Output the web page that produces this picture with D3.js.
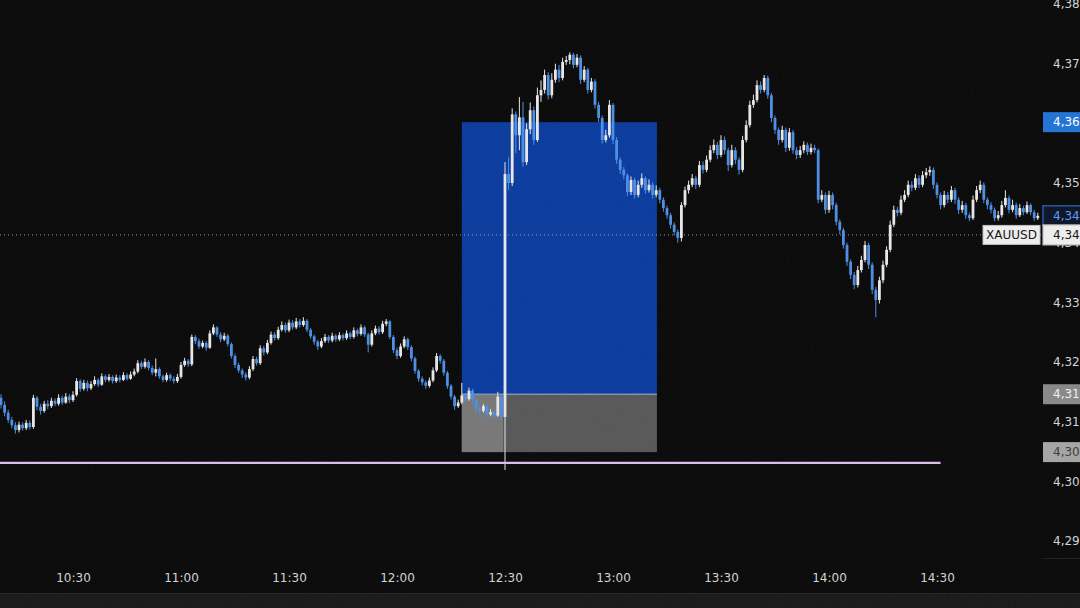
<!DOCTYPE html>
<html>
<head>
<meta charset="utf-8">
<script src="https://cdn.jsdelivr.net/npm/d3@7/dist/d3.min.js"></script>
<style>
  html, body { margin: 0; padding: 0; background: #090909; overflow: hidden; }
  svg { display: block; }
</style>
</head>
<body>
<svg id="chart" width="1080" height="608"></svg>
<script>
// ---------- DATA ----------
const firstMinute = 610; // 10:10, one candle per minute
const opens = [4314.0,4312.8,4311.5,4310.3,4309.4,4308.6,4309.5,4308.9,4309.8,4309.1,
 4314.0,4312.5,4311.8,4313.0,4312.6,4313.5,4313.0,4314.0,4313.2,4314.2,
 4313.6,4314.5,4316.8,4315.5,4316.5,4315.6,4316.3,4317.0,4316.2,4317.6,
 4317.0,4317.5,4316.8,4317.4,4317.0,4317.8,4317.2,4317.9,4318.4,4319.8,
 4319.2,4320.0,4319.0,4318.2,4318.8,4317.6,4317.0,4317.8,4317.2,4316.8,
 4317.5,4319.5,4320.2,4319.6,4324.2,4323.5,4322.6,4323.2,4322.4,4324.8,
 4325.8,4324.6,4323.8,4324.4,4323.0,4321.0,4319.5,4318.6,4317.9,4317.4,
 4318.8,4320.5,4319.8,4322.3,4321.6,4323.2,4324.6,4324.0,4325.4,4326.2,
 4325.3,4326.6,4325.8,4326.8,4326.2,4326.9,4325.4,4324.3,4323.4,4322.6,
 4323.5,4324.2,4323.6,4324.4,4323.8,4324.5,4324.0,4324.8,4324.2,4325.3,
 4324.7,4325.8,4324.6,4322.9,4324.8,4325.6,4325.0,4326.4,4326.8,4324.2,
 4322.0,4321.0,4322.6,4323.8,4322.5,4320.6,4318.5,4317.2,4316.6,4316.0,
 4316.9,4318.6,4321.0,4320.2,4318.2,4316.0,4314.2,4312.6,4313.2,4314.4,
 4313.8,4315.2,4313.6,4312.2,4311.8,4312.6,4311.2,4311.6,4311.0,4314.2,
 4310.8,4351.5,4350.0,4361.5,4358.0,4361.0,4353.5,4359.0,4362.2,4357.2,
 4364.7,4365.6,4368.1,4364.7,4367.3,4369.0,4367.6,4370.3,4370.6,4371.5,
 4369.8,4371.0,4367.3,4369.0,4365.6,4367.0,4363.1,4360.9,4357.2,4358.0,
 4363.1,4357.2,4353.9,4352.2,4351.3,4348.5,4350.5,4348.0,4349.7,4350.8,
 4348.8,4349.7,4348.0,4348.8,4347.2,4345.8,4344.6,4343.0,4341.8,4340.8,
 4346.3,4348.8,4349.7,4350.8,4349.7,4353.0,4352.2,4353.9,4355.5,4356.4,
 4354.7,4357.2,4355.5,4353.0,4355.5,4353.9,4352.2,4357.2,4359.7,4363.1,
 4363.9,4366.4,4365.6,4367.6,4364.7,4360.9,4358.9,4357.2,4358.9,4355.9,
 4358.5,4355.5,4354.7,4355.5,4356.4,4355.2,4355.9,4355.5,4347.2,4348.0,
 4345.5,4348.0,4346.3,4343.5,4342.1,4339.6,4336.8,4334.6,4332.9,4335.4,
 4337.1,4339.6,4336.3,4332.1,4330.4,4333.7,4336.3,4338.8,4343.0,4345.5,
 4345.0,4347.2,4348.0,4349.7,4349.2,4350.8,4349.7,4351.3,4351.8,4352.2,
 4349.7,4348.0,4346.3,4348.0,4347.2,4348.8,4347.2,4345.5,4346.3,4344.6,
 4344.1,4347.2,4348.8,4349.7,4347.2,4346.3,4345.5,4344.1,4344.6,4346.3,
 4347.5,4345.5,4346.3,4344.6,4345.8,4345.1,4346.3,4345.1,4344.1];
const highs = [4314.6,4313.4,4312.0,4310.8,4309.9,4310.0,4309.9,4310.3,4310.2,4314.5,
 4314.3,4313.0,4313.5,4313.6,4314.0,4313.9,4314.6,4314.4,4314.8,4314.6,
 4315.1,4317.3,4317.1,4317.0,4316.9,4316.8,4317.6,4317.3,4318.1,4317.9,
 4318.0,4317.8,4317.9,4317.8,4318.3,4318.1,4318.4,4318.9,4320.3,4320.2,
 4320.6,4320.3,4319.4,4320.6,4319.1,4317.9,4318.2,4318.1,4317.6,4318.0,
 4320.0,4320.7,4320.5,4324.6,4324.5,4323.9,4323.6,4323.5,4325.3,4326.3,
 4326.0,4325.0,4324.9,4324.7,4323.3,4321.4,4319.9,4318.9,4318.3,4319.3,
 4321.0,4320.9,4322.8,4322.7,4323.7,4325.1,4325.0,4325.9,4326.8,4326.6,
 4327.1,4327.0,4327.4,4327.2,4327.5,4327.2,4325.7,4324.6,4323.7,4324.0,
 4324.7,4324.5,4324.9,4324.7,4325.0,4324.8,4325.3,4325.1,4325.8,4325.6,
 4326.3,4326.1,4324.9,4325.3,4326.1,4326.0,4326.9,4327.2,4327.0,4324.5,
 4322.4,4323.1,4324.3,4324.1,4322.8,4320.9,4318.8,4317.6,4316.9,4317.4,
 4319.1,4321.5,4321.3,4320.5,4318.5,4316.3,4314.5,4313.7,4316.5,4314.8,
 4315.7,4315.5,4313.9,4312.6,4313.0,4312.9,4312.1,4311.9,4315.0,4314.5,
 4353.5,4354.3,4362.5,4362.0,4364.4,4363.6,4360.0,4363.5,4362.8,4366.0,
 4367.2,4369.0,4368.6,4368.4,4370.0,4369.8,4371.0,4371.3,4371.9,4371.8,
 4371.6,4371.4,4369.6,4369.3,4367.6,4367.4,4363.6,4361.3,4358.9,4363.9,
 4363.4,4357.7,4354.3,4352.7,4351.6,4351.1,4350.9,4350.4,4351.6,4351.1,
 4350.6,4350.1,4349.6,4349.2,4347.6,4346.2,4345.0,4343.4,4342.2,4346.8,
 4349.4,4350.4,4351.5,4351.2,4353.7,4353.6,4354.6,4356.3,4357.3,4356.9,
 4358.0,4357.8,4355.9,4356.4,4356.0,4354.3,4357.9,4360.5,4363.8,4364.8,
 4367.2,4367.0,4368.1,4368.0,4365.1,4361.3,4359.3,4359.6,4359.3,4359.2,
 4358.9,4356.0,4356.2,4357.0,4356.8,4356.6,4356.4,4355.8,4348.8,4348.4,
 4348.7,4348.4,4346.7,4343.9,4342.5,4340.0,4337.2,4335.1,4336.1,4337.8,
 4340.3,4340.0,4336.7,4332.6,4334.3,4337.0,4339.4,4343.7,4346.2,4346.0,
 4347.9,4348.8,4350.4,4350.3,4351.5,4351.3,4352.0,4352.5,4352.8,4352.6,
 4350.1,4348.4,4348.7,4348.5,4349.5,4349.2,4347.6,4347.0,4346.7,4345.0,
 4347.9,4349.5,4350.4,4350.1,4347.6,4346.8,4345.9,4345.3,4347.0,4348.8,
 4347.9,4347.2,4346.7,4346.5,4346.2,4346.9,4346.6,4345.5,4345.0];
const lows = [4312.2,4310.9,4309.8,4308.9,4308.0,4308.2,4308.5,4308.6,4308.7,4308.8,
 4311.9,4311.2,4311.5,4312.1,4312.3,4312.6,4312.7,4312.8,4313.0,4313.1,
 4313.3,4314.2,4315.0,4315.2,4315.1,4315.3,4316.0,4315.8,4316.0,4316.6,
 4316.7,4316.4,4316.5,4316.6,4316.8,4316.9,4317.0,4317.6,4318.1,4318.8,
 4318.9,4318.6,4317.8,4317.6,4317.2,4316.6,4316.7,4316.8,4316.4,4316.5,
 4317.2,4319.2,4319.2,4319.3,4323.0,4322.2,4322.3,4321.9,4322.2,4324.5,
 4324.2,4323.3,4323.5,4322.6,4320.6,4319.0,4318.2,4317.3,4316.9,4317.1,
 4318.5,4319.4,4319.5,4321.1,4321.3,4322.9,4323.6,4323.7,4325.1,4324.9,
 4325.0,4325.4,4325.5,4325.8,4325.9,4325.0,4323.9,4322.9,4322.0,4322.3,
 4323.2,4323.2,4323.3,4323.4,4323.5,4323.6,4323.7,4323.8,4323.9,4324.3,
 4324.4,4324.2,4321.6,4322.6,4324.5,4324.6,4324.7,4326.0,4323.8,4321.5,
 4320.5,4320.7,4322.3,4322.0,4320.1,4318.0,4316.7,4316.1,4315.5,4315.7,
 4316.6,4318.3,4319.7,4317.7,4315.5,4313.7,4312.0,4312.3,4312.9,4313.3,
 4313.5,4313.1,4311.6,4311.2,4311.5,4310.7,4310.9,4310.5,4310.8,4310.3,
 4301.9,4348.8,4349.5,4355.0,4355.5,4352.7,4353.0,4358.2,4356.4,4356.9,
 4363.6,4365.0,4364.0,4364.2,4366.8,4366.9,4367.2,4369.8,4369.9,4369.2,
 4369.4,4366.6,4366.9,4365.0,4365.2,4362.5,4360.2,4356.6,4356.8,4357.6,
 4356.5,4353.2,4351.5,4350.6,4347.8,4348.0,4347.4,4347.6,4349.2,4348.2,
 4348.4,4347.4,4347.6,4346.6,4345.2,4344.0,4342.4,4341.2,4340.0,4340.2,
 4345.9,4348.2,4349.3,4349.0,4349.3,4351.6,4351.8,4353.5,4355.0,4354.0,
 4354.3,4354.8,4352.0,4352.6,4353.2,4351.4,4351.8,4356.8,4359.3,4362.6,
 4363.5,4365.0,4365.2,4364.1,4360.2,4358.2,4356.4,4356.8,4355.2,4355.4,
 4354.9,4354.0,4354.2,4355.0,4354.7,4354.8,4355.0,4346.6,4346.8,4344.8,
 4345.0,4345.6,4342.9,4341.4,4339.0,4336.1,4333.9,4332.2,4332.5,4335.0,
 4336.7,4335.6,4331.4,4327.5,4329.8,4333.2,4335.9,4338.4,4342.6,4344.4,
 4344.6,4346.8,4347.6,4348.6,4348.8,4349.1,4349.3,4350.8,4351.2,4349.0,
 4347.4,4345.6,4345.9,4346.6,4346.8,4346.5,4344.8,4345.0,4344.0,4343.6,
 4343.8,4346.8,4348.3,4346.6,4345.6,4344.9,4343.6,4343.7,4344.2,4345.9,
 4344.9,4345.1,4344.0,4344.3,4344.6,4344.8,4344.6,4343.6,4343.8];
const closes = [4312.8,4311.5,4310.3,4309.4,4308.6,4309.5,4308.9,4309.8,4309.1,4314.0,
 4312.5,4311.8,4313.0,4312.6,4313.5,4313.0,4314.0,4313.2,4314.2,4313.6,
 4314.5,4316.8,4315.5,4316.5,4315.6,4316.3,4317.0,4316.2,4317.6,4317.0,
 4317.5,4316.8,4317.4,4317.0,4317.8,4317.2,4317.9,4318.4,4319.8,4319.2,
 4320.0,4319.0,4318.2,4318.8,4317.6,4317.0,4317.8,4317.2,4316.8,4317.5,
 4319.5,4320.2,4319.6,4324.2,4323.5,4322.6,4323.2,4322.4,4324.8,4325.8,
 4324.6,4323.8,4324.4,4323.0,4321.0,4319.5,4318.6,4317.9,4317.4,4318.8,
 4320.5,4319.8,4322.3,4321.6,4323.2,4324.6,4324.0,4325.4,4326.2,4325.3,
 4326.6,4325.8,4326.8,4326.2,4326.9,4325.4,4324.3,4323.4,4322.6,4323.5,
 4324.2,4323.6,4324.4,4323.8,4324.5,4324.0,4324.8,4324.2,4325.3,4324.7,
 4325.8,4324.6,4322.9,4324.8,4325.6,4325.0,4326.4,4326.8,4324.2,4322.0,
 4321.0,4322.6,4323.8,4322.5,4320.6,4318.5,4317.2,4316.6,4316.0,4316.9,
 4318.6,4321.0,4320.2,4318.2,4316.0,4314.2,4312.6,4313.2,4314.4,4313.8,
 4315.2,4313.6,4312.2,4311.8,4312.6,4311.2,4311.6,4311.0,4314.2,4310.8,
 4351.5,4350.0,4361.5,4358.0,4361.0,4353.5,4359.0,4362.2,4357.2,4364.7,
 4365.6,4368.1,4364.7,4367.3,4369.0,4367.6,4370.3,4370.6,4371.5,4369.8,
 4371.0,4367.3,4369.0,4365.6,4367.0,4363.1,4360.9,4357.2,4358.0,4363.1,
 4357.2,4353.9,4352.2,4351.3,4348.5,4350.5,4348.0,4349.7,4350.8,4348.8,
 4349.7,4348.0,4348.8,4347.2,4345.8,4344.6,4343.0,4341.8,4340.8,4346.3,
 4348.8,4349.7,4350.8,4349.7,4353.0,4352.2,4353.9,4355.5,4356.4,4354.7,
 4357.2,4355.5,4353.0,4355.5,4353.9,4352.2,4357.2,4359.7,4363.1,4363.9,
 4366.4,4365.6,4367.6,4364.7,4360.9,4358.9,4357.2,4358.9,4355.9,4358.5,
 4355.5,4354.7,4355.5,4356.4,4355.2,4355.9,4355.5,4347.2,4348.0,4345.5,
 4348.0,4346.3,4343.5,4342.1,4339.6,4336.8,4334.6,4332.9,4335.4,4337.1,
 4339.6,4336.3,4332.1,4330.4,4333.7,4336.3,4338.8,4343.0,4345.5,4345.0,
 4347.2,4348.0,4349.7,4349.2,4350.8,4349.7,4351.3,4351.8,4352.2,4349.7,
 4348.0,4346.3,4348.0,4347.2,4348.8,4347.2,4345.5,4346.3,4344.6,4344.1,
 4347.2,4348.8,4349.7,4347.2,4346.3,4345.5,4344.1,4344.6,4346.3,4347.5,
 4345.5,4346.3,4344.6,4345.8,4345.1,4346.3,4345.1,4344.1,4344.5];

const priceTicks = [4380, 4370, 4360, 4350, 4340, 4330, 4320, 4310, 4300, 4290];
const priceTickLabels = ["4,38", "4,37", "4,36", "4,35", "4,34", "4,33", "4,32", "4,31", "4,30", "4,29"];
const timeTicks = [630, 660, 690, 720, 750, 780, 810, 840, 870];
const timeTickLabels = ["10:30", "11:00", "11:30", "12:00", "12:30", "13:00", "13:30", "14:00", "14:30"];

// long position tool
const positionStart = 738, positionEnd = 792.2;   // minutes (12:18 -> 13:12)
const entryPrice = 4314.6, targetPrice = 4360.2, stopPrice = 4304.9;
// horizontal level (pink)
const levelPrice = 4303.1, levelEnd = 871;
// price markers
const lastPrice = 4344.5, symbolPrice = 4341.3;
const symbolName = "XAUUSD";
const markerLabels = { target: "4,36", last: "4,34", symbol: "4,34", entry: "4,31", stop: "4,30" };

// ---------- SCALES ----------
const svg = d3.select("#chart");
const W = 1080, H = 608;
const x = d3.scaleLinear().domain([600, 900]).range([-35, 1045]);
const y = d3.scaleLinear().domain([4290, 4380]).range([541, 4]);

const candles = closes.map((c, i) => ({ m: firstMinute + i, o: opens[i], h: highs[i], l: lows[i], c }));

const defs = svg.append("defs");
const f = defs.append("filter").attr("id", "noise").attr("x", 0).attr("y", 0).attr("width", "100%").attr("height", "100%");
f.append("feTurbulence").attr("type", "fractalNoise").attr("baseFrequency", 0.85).attr("numOctaves", 2).attr("stitchTiles", "stitch");
f.append("feColorMatrix").attr("type", "matrix").attr("values", "0 0 0 0 1  0 0 0 0 1  0 0 0 0 1  0.045 0 0 0 0");

// background
svg.append("rect").attr("width", W).attr("height", H).attr("fill", "#070707");

// position boxes
const gPos = svg.append("g");
gPos.append("rect")
  .attr("x", x(positionStart)).attr("y", y(targetPrice))
  .attr("width", x(positionEnd) - x(positionStart)).attr("height", y(entryPrice) - y(targetPrice))
  .attr("fill", "#08399c");
gPos.append("rect")
  .attr("x", x(positionStart)).attr("y", y(entryPrice))
  .attr("width", x(positionEnd) - x(positionStart)).attr("height", y(stopPrice) - y(entryPrice))
  .attr("fill", "#565656");
gPos.append("rect")
  .attr("x", x(positionStart)).attr("y", y(entryPrice))
  .attr("width", x(750) - x(positionStart) - 2).attr("height", y(stopPrice) - y(entryPrice))
  .attr("fill", "#767676");
gPos.append("line")
  .attr("x1", x(positionStart)).attr("x2", x(positionEnd))
  .attr("y1", y(entryPrice)).attr("y2", y(entryPrice))
  .attr("stroke", "#7d8fb6").attr("stroke-width", 1.5);

// symbol price dotted line
svg.append("line")
  .attr("x1", 0).attr("x2", 1043).attr("y1", y(symbolPrice)).attr("y2", y(symbolPrice))
  .attr("stroke", "#bdbdbd").attr("stroke-width", 1).attr("stroke-dasharray", "1,3").attr("opacity", 0.8);

// candles
const upCol = "#e6e6e6", dnCol = "#4a8de2";
const gC = svg.append("g");
const cg = gC.selectAll("g").data(candles).join("g");
cg.append("line")
  .attr("x1", d => x(d.m)).attr("x2", d => x(d.m))
  .attr("y1", d => y(d.h)).attr("y2", d => y(d.l))
  .attr("stroke", d => d.c >= d.o ? upCol : dnCol).attr("stroke-width", 1);
cg.append("rect")
  .attr("x", d => x(d.m) - 1.4).attr("width", 2.8)
  .attr("y", d => y(Math.max(d.o, d.c)))
  .attr("height", d => Math.max(1, Math.abs(y(d.o) - y(d.c))))
  .attr("fill", d => d.c >= d.o ? upCol : dnCol);

// pink level line
svg.append("line")
  .attr("x1", 0).attr("x2", x(levelEnd)).attr("y1", y(levelPrice)).attr("y2", y(levelPrice))
  .attr("stroke", "#d6bdea").attr("stroke-width", 2.2);

// bottom strip & separators
svg.append("rect").attr("x", 0).attr("y", 593).attr("width", W).attr("height", 15).attr("fill", "#171717");
svg.append("line").attr("x1", 0).attr("x2", W).attr("y1", 593.5).attr("y2", 593.5).attr("stroke", "#242424");
svg.append("line").attr("x1", 1043).attr("x2", W).attr("y1", 558.5).attr("y2", 558.5).attr("stroke", "#1c1c1c");

const font = "'DejaVu Sans', Verdana, sans-serif";

// time axis
const xAxis = d3.axisBottom(x).tickValues(timeTicks).tickSize(0).tickPadding(0)
  .tickFormat((d, i) => timeTickLabels[i]);
const gx = svg.append("g").attr("transform", "translate(0,578)").call(xAxis);
gx.select(".domain").remove();
gx.selectAll("text").attr("y", 0).attr("dy", "0.35em")
  .attr("fill", "#d2d2d2").style("font-family", font).style("font-size", "12px");

// price axis
const yAxis = d3.axisRight(y).tickValues(priceTicks).tickSize(0).tickPadding(8)
  .tickFormat((d, i) => priceTickLabels[i]);
const gy = svg.append("g").attr("transform", "translate(1045,0)").call(yAxis);
gy.select(".domain").remove();
gy.selectAll("text").attr("fill", "#d2d2d2").style("font-family", font).style("font-size", "12px");

// price markers on the axis
function marker(price, label, fill, stroke, textCol) {
  const g = svg.append("g");
  g.append("rect").attr("x", 1043).attr("y", y(price) - 10).attr("width", 40).attr("height", 20)
    .attr("fill", fill).attr("stroke", stroke || "none").attr("stroke-width", 1.2);
  g.append("text").attr("x", 1053).attr("y", y(price)).attr("dy", "0.35em")
    .attr("fill", textCol).style("font-family", font).style("font-size", "12px").text(label);
}
marker(targetPrice, markerLabels.target, "#1f72d4", null, "#ffffff");
marker(lastPrice, markerLabels.last, "#0a1226", "#2a66c8", "#5b9cf0");
marker(entryPrice, markerLabels.entry, "#878787", null, "#f0f0f0");
marker(stopPrice, markerLabels.stop, "#a3a3a3", null, "#3a3a3a");
marker(symbolPrice, markerLabels.symbol, "#ededed", "#bdbdbd", "#111111");

// symbol name label
const sg = svg.append("g");
sg.append("rect").attr("x", 983).attr("y", y(symbolPrice) - 9.5).attr("width", 57).attr("height", 19)
  .attr("fill", "#ededed").attr("stroke", "#bdbdbd");
sg.append("text").attr("x", 1011.5).attr("y", y(symbolPrice)).attr("dy", "0.35em").attr("text-anchor", "middle")
  .attr("fill", "#111").style("font-family", font).style("font-size", "12px").text(symbolName);

// film grain overlay
svg.append("rect").attr("width", W).attr("height", H).attr("filter", "url(#noise)").attr("pointer-events", "none");
</script>
</body>
</html>
